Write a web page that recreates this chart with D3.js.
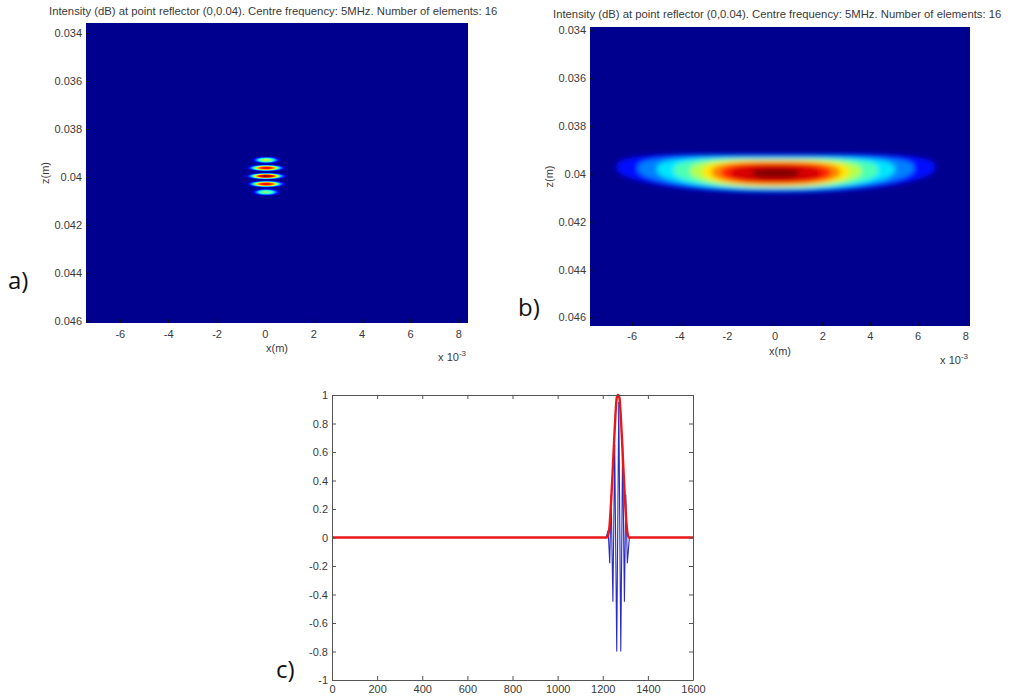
<!DOCTYPE html>
<html>
<head>
<meta charset="utf-8">
<script src="https://cdn.jsdelivr.net/npm/d3@7"></script>
<style>
body { margin: 0; background: #fff; }
svg { display: block; font-family: "Liberation Sans", Arial, sans-serif; }
</style>
</head>
<body>
<div id="chart"></div>
<script>
// ---- data ----
const titleText = 'Intensity (dB) at point reflector (0,0.04). Centre frequency: 5MHz. Number of elements: 16';
const xTicks = [-6, -4, -2, 0, 2, 4, 6, 8];               // x 10^-3 m
const zTicks = [0.034, 0.036, 0.038, 0.04, 0.042, 0.044, 0.046];

// panel a: five thin bands around the reflector
const aBandX = [0.05, 0.05, 0.05, 0.05, 0.05];
const aBandZ = [0.03930, 0.03963, 0.03997, 0.04030, 0.04064];
const aBandPeak = [0.55, 0.88, 0.97, 0.88, 0.5];
const aBandHalfX = [0.62, 0.85, 0.9, 0.85, 0.62];
const aBandHalfZ = [0.00016, 0.00016, 0.00016, 0.00016, 0.00016];

// panel b: one wide blob, given as nested levels
const bLevel = [0.08, 0.2, 0.3, 0.4, 0.5, 0.6, 0.7, 0.8, 0.88, 0.95];
const bHalfX = [6.7, 5.8, 5.0, 4.3, 3.6, 3.1, 2.7, 2.3, 1.9, 1.0];
const bHalfZ = [0.00080, 0.00072, 0.00067, 0.00063, 0.00058, 0.00054, 0.00049, 0.00043, 0.00035, 0.00020];
const bBend = [0.00026, 0.00021, 0.00017, 0.00013, 0.0001, 0.00007, 0.00005, 0.00003, 0, 0];

// panel c: received signal and its envelope
const sampleTicks = [0, 200, 400, 600, 800, 1000, 1200, 1400, 1600];
const ampTicks = [-1, -0.8, -0.6, -0.4, -0.2, 0, 0.2, 0.4, 0.6, 0.8, 1];
const signalIdx = [0, 1215, 1224, 1231, 1237, 1245, 1253, 1262, 1271, 1280, 1288, 1296, 1302, 1309, 1318, 1600];
const signalAmp = [0, 0, 0.05, -0.18, 0.3, -0.45, 0.65, -0.8, 0.95, -0.8, 0.65, -0.45, 0.3, -0.18, 0, 0];
const envIdx = [0, 1218, 1228, 1238, 1248, 1256, 1262, 1268, 1274, 1280, 1288, 1298, 1308, 1316, 1600];
const envAmp = [0, 0, 0.05, 0.28, 0.6, 0.85, 0.98, 1, 0.98, 0.85, 0.6, 0.28, 0.05, 0, 0];

// ---- setup ----
const jet = d3.scaleLinear()
    .domain([0, 0.125, 0.375, 0.625, 0.875, 1])
    .range(['#00008f', '#0000ff', '#00ffff', '#ffff00', '#ff0000', '#800000'])
    .clamp(true);

const svg = d3.select('#chart').append('svg')
    .attr('width', 1011).attr('height', 700);
const defs = svg.append('defs');
const textColor = '#3a3a3a';
const tickFont = 11;

const aX = d3.scaleLinear().domain([-7.4, 8.4]).range([86, 468]);
const aZ = d3.scaleLinear().domain([0.03358, 0.0461]).range([23, 323]);
const bX = d3.scaleLinear().domain([-7.75, 8.2]).range([590, 970]);
const bZ = d3.scaleLinear().domain([0.03387, 0.04636]).range([27, 326]);

function heatPanel(id, x, z, titleY, labelPad) {
    const g = svg.append('g').attr('id', id);
    const [x0, x1] = x.range(), [z0, z1] = z.range();
    defs.append('clipPath').attr('id', 'clip-' + id)
        .append('rect').attr('x', x0).attr('y', z0).attr('width', x1 - x0).attr('height', z1 - z0);
    const plot = g.append('g').attr('clip-path', `url(#clip-${id})`);
    plot.append('rect')
        .attr('x', x0).attr('y', z0).attr('width', x1 - x0).attr('height', z1 - z0)
        .attr('fill', jet(0));

    g.append('g')
        .attr('transform', `translate(0,${z1})`)
        .call(d3.axisBottom(x).tickValues(xTicks).tickSize(-4).tickPadding(labelPad)
            .tickFormat(d => String(d)))
        .call(a => a.select('.domain').remove());
    g.append('g')
        .attr('transform', `translate(${x0},0)`)
        .call(d3.axisLeft(z).tickValues(zTicks).tickSize(-4).tickPadding(4)
            .tickFormat(d => String(+d.toFixed(3))))
        .call(a => a.select('.domain').remove());
    g.selectAll('.tick line').attr('stroke', '#111');
    g.selectAll('.tick text').attr('fill', textColor).attr('font-size', tickFont)
        .attr('font-family', '"Liberation Sans", Arial, sans-serif');

    g.append('text')
        .attr('x', (x0 + x1) / 2).attr('y', z1 + 29)
        .attr('text-anchor', 'middle').attr('font-size', tickFont).attr('fill', textColor)
        .text('x(m)');
    const ex = g.append('text')
        .attr('x', x1 - 2).attr('y', z1 + 38)
        .attr('text-anchor', 'end').attr('font-size', tickFont).attr('fill', textColor);
    ex.append('tspan').text('x 10');
    ex.append('tspan').attr('dy', -5).attr('font-size', 8).text('-3');
    g.append('text')
        .attr('transform', `translate(${x0 - 37},${(z0 + z1) / 2}) rotate(-90)`)
        .attr('text-anchor', 'middle').attr('font-size', tickFont).attr('fill', textColor)
        .text('z(m)');
    g.append('text')
        .attr('x', x0 - 37).attr('y', titleY)
        .attr('font-size', 11.3).attr('fill', textColor)
        .text(titleText);
    return plot;
}

// ---- panel a ----
const plotA = heatPanel('a', aX, aZ, 15, 7);
aBandPeak.forEach((p, i) => {
    const grad = defs.append('radialGradient').attr('id', 'ga' + i);
    const k = Math.log(p / 0.03);
    d3.range(0, 11).forEach(s => {
        const r = s / 10;
        grad.append('stop').attr('offset', r).attr('stop-color', jet(p * Math.exp(-k * Math.pow(r, 3))));
    });
});
plotA.selectAll('ellipse')
    .data(aBandPeak.map((p, i) => ({p, i})))
    .join('ellipse')
    .attr('cx', d => aX(aBandX[d.i]))
    .attr('cy', d => aZ(aBandZ[d.i]))
    .attr('rx', d => aX(aBandHalfX[d.i]) - aX(0))
    .attr('ry', d => aZ(aBandZ[d.i] + aBandHalfZ[d.i]) - aZ(aBandZ[d.i]))
    .attr('fill', d => `url(#ga${d.i})`);

// ---- panel b ----
const plotB = heatPanel('b', bX, bZ, 18, 6);
defs.append('filter').attr('id', 'soft')
    .attr('x', '-20%').attr('y', '-50%').attr('width', '140%').attr('height', '200%')
    .append('feGaussianBlur').attr('stdDeviation', 2.8);

function blobPath(hx, hz, bend) {
    const e = 2 / 2.5;
    const pts = d3.range(0, 120).map(i => {
        const t = i / 120 * 2 * Math.PI;
        const c = Math.cos(t), s = Math.sin(t);
        const px = Math.sign(c) * Math.pow(Math.abs(c), e);
        const pz = Math.sign(s) * Math.pow(Math.abs(s), e);
        return [bX(0.05 + hx * px), bZ(0.03998 + hz * pz - bend * px * px)];
    });
    return d3.line().curve(d3.curveLinearClosed)(pts);
}
plotB.append('g').attr('filter', 'url(#soft)')
    .selectAll('path')
    .data(bLevel.map((l, i) => ({l, i})))
    .join('path')
    .attr('d', d => blobPath(bHalfX[d.i], bHalfZ[d.i], bBend[d.i]))
    .attr('fill', d => jet(d.i < bLevel.length - 1 ? (d.l + bLevel[d.i + 1]) / 2 : 1));

// ---- panel c ----
const cX = d3.scaleLinear().domain([0, 1600]).range([332, 693]);
const cY = d3.scaleLinear().domain([-1, 1]).range([680, 395]);
const gc = svg.append('g').attr('id', 'c');

const sig = signalIdx.map((s, i) => [s, signalAmp[i]]);
const env = envIdx.map((s, i) => [s, envAmp[i]]);
const line = d3.line().x(d => cX(d[0])).y(d => cY(d[1]));
gc.append('path').datum(sig).attr('d', line)
    .attr('fill', 'none').attr('stroke', '#2b2bc0').attr('stroke-width', 1.1);
gc.append('path').datum(env).attr('d', line.curve(d3.curveMonotoneX))
    .attr('fill', 'none').attr('stroke', '#e81818').attr('stroke-width', 2.4)
    .attr('stroke-linejoin', 'round');

const axColor = '#555';
gc.append('g').attr('transform', `translate(0,${cY(-1)})`)
    .call(d3.axisBottom(cX).tickValues(sampleTicks).tickSize(-4).tickPadding(5).tickSizeOuter(0)
        .tickFormat(d => String(d)));
gc.append('g').attr('transform', `translate(0,${cY(1)})`)
    .call(d3.axisTop(cX).tickValues(sampleTicks).tickSize(-4).tickSizeOuter(0).tickFormat(''));
gc.append('g').attr('transform', `translate(${cX(0)},0)`)
    .call(d3.axisLeft(cY).tickValues(ampTicks).tickSize(-4).tickPadding(4).tickSizeOuter(0)
        .tickFormat(d => String(+d.toFixed(1))));
gc.append('g').attr('transform', `translate(${cX(1600)},0)`)
    .call(d3.axisRight(cY).tickValues(ampTicks).tickSize(-4).tickSizeOuter(0).tickFormat(''));
gc.selectAll('.domain, .tick line').attr('stroke', axColor);
gc.selectAll('.tick text').attr('fill', textColor).attr('font-size', tickFont)
    .attr('font-family', '"Liberation Sans", Arial, sans-serif');

// ---- panel letters ----
const letters = [['a)', 8, 289], ['b)', 518, 316], ['c)', 276, 678]];
svg.selectAll('text.letter')
    .data(letters)
    .join('text')
    .attr('class', 'letter')
    .attr('x', d => d[1]).attr('y', d => d[2])
    .attr('font-family', '"Open Sans", "Noto Sans", sans-serif')
    .attr('font-size', 24).attr('fill', '#111')
    .text(d => d[0]);
</script>
</body>
</html>
